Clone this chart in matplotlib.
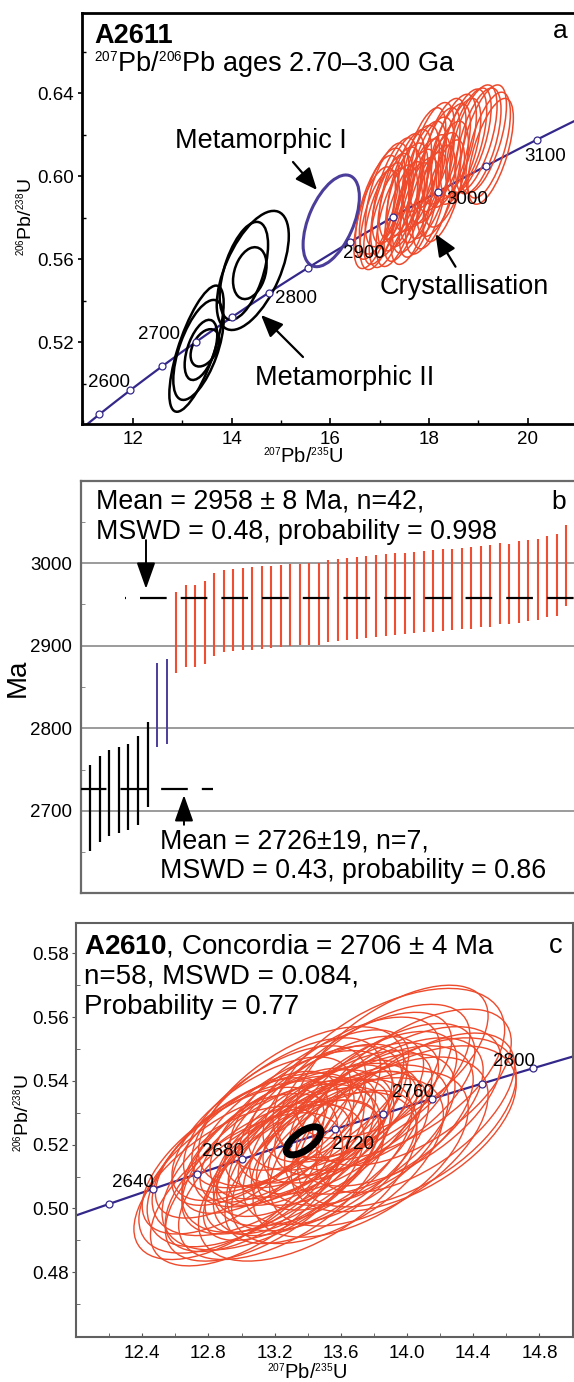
import numpy as np
import matplotlib
matplotlib.use('Agg')
import matplotlib.pyplot as plt
import matplotlib._mathtext as mtext
from matplotlib.patches import Circle, FancyArrowPatch
from matplotlib.transforms import Affine2D
from matplotlib.ticker import MultipleLocator, FixedLocator, FormatStrFormatter

# small isotope superscripts
mtext.SHRINK_FACTOR = 0.5

plt.rcParams['font.family'] = ['Liberation Sans', 'DejaVu Sans']
plt.rcParams['mathtext.fontset'] = 'custom'
plt.rcParams['mathtext.rm'] = 'Liberation Sans'
plt.rcParams['mathtext.it'] = 'Liberation Sans:italic'
plt.rcParams['mathtext.bf'] = 'Liberation Sans:bold'
plt.rcParams['lines.scale_dashes'] = False

# decay constants (1/yr)
L238 = 1.55125e-10
L235 = 9.8485e-10

# ---- panel a : A2611 concordia ----
ages_a = [2550, 2600, 2650, 2700, 2750, 2800, 2850, 2900, 2950, 3000, 3050, 3100]
labels_a = [2600, 2700, 2800, 2900, 3000, 3100]
lab_off_a = [(-15, 5.6), (-27, 5), (19, -4.2), (10.4, -7.8), (20.4, -6), (6.2, -12)]

blk_x = [13.29, 13.33, 13.38, 13.46, 14.43, 14.25, 14.37]
blk_y = [0.5169, 0.5163, 0.5163, 0.5173, 0.5546, 0.5544, 0.5533]
blk_sx = [0.55, 0.51, 0.33, 0.29, 0.73, 0.49, 0.34]
blk_sy = [0.0304, 0.0241, 0.0145, 0.0090, 0.0287, 0.0236, 0.0125]
blk_rho = [0.72, 0.60, 0.50, 0.40, 0.58, 0.53, 0.30]

pur_x = [16.02]
pur_y = [0.5785]
pur_sx = [0.57]
pur_sy = [0.0221]
pur_rho = [0.52]

ra_x = [16.90, 16.95, 17.00, 17.05, 17.10, 17.15, 17.20, 17.25, 17.30, 17.35,
        17.40, 17.45, 17.50, 17.55, 17.60, 17.65, 17.70, 17.75, 17.80, 17.85,
        17.90, 17.95, 18.00, 18.05, 18.10, 18.20, 18.30, 18.35, 17.90, 18.05,
        18.20, 18.30, 18.40, 18.50, 18.60, 18.70, 18.80, 18.90, 19.00, 19.10,
        19.20, 19.25]
ra_y = [0.5800, 0.5850, 0.5790, 0.5880, 0.5820, 0.5910, 0.5800, 0.5860, 0.5930, 0.5810,
        0.5890, 0.5950, 0.5830, 0.5910, 0.5970, 0.5820, 0.5880, 0.5990, 0.5850, 0.5930,
        0.6010, 0.5870, 0.5950, 0.6030, 0.5900, 0.5960, 0.5930, 0.6010, 0.6080, 0.6100,
        0.6080, 0.6120, 0.6100, 0.6140, 0.6120, 0.6160, 0.6170, 0.6180, 0.6170, 0.6180,
        0.6150, 0.6120]
ra_sx = [0.42, 0.44, 0.40, 0.46, 0.42, 0.44, 0.41, 0.43, 0.45, 0.42,
         0.44, 0.46, 0.41, 0.43, 0.45, 0.42, 0.44, 0.46, 0.40, 0.43,
         0.45, 0.42, 0.44, 0.46, 0.43, 0.44, 0.42, 0.45, 0.44, 0.46,
         0.43, 0.45, 0.44, 0.46, 0.45, 0.47, 0.46, 0.48, 0.46, 0.47,
         0.45, 0.46]
ra_sy = [0.0245, 0.0250, 0.0240, 0.0255, 0.0245, 0.0250, 0.0240, 0.0250, 0.0255, 0.0245,
         0.0250, 0.0255, 0.0240, 0.0250, 0.0255, 0.0245, 0.0250, 0.0255, 0.0240, 0.0250,
         0.0255, 0.0245, 0.0250, 0.0255, 0.0250, 0.0250, 0.0245, 0.0255, 0.0250, 0.0255,
         0.0250, 0.0255, 0.0250, 0.0255, 0.0255, 0.0260, 0.0255, 0.0260, 0.0255, 0.0260,
         0.0255, 0.0255]
ra_rho = [0.60, 0.63, 0.57, 0.61, 0.65, 0.59, 0.62, 0.58, 0.63, 0.60,
          0.57, 0.61, 0.64, 0.59, 0.62, 0.60, 0.65, 0.58, 0.61, 0.63,
          0.59, 0.62, 0.60, 0.57, 0.63, 0.61, 0.65, 0.59, 0.62, 0.60,
          0.63, 0.58, 0.61, 0.59, 0.62, 0.60, 0.63, 0.61, 0.59, 0.62,
          0.60, 0.63]

# ---- panel b : 207Pb/206Pb ages ----
blk_age = [2703.5, 2714.4, 2721.4, 2725.4, 2728.7, 2736.6, 2756.3]
blk_err = [51.8, 51.8, 52.0, 52.0, 52.0, 53.8, 51.4]
pur_age = [2828.2, 2832.7]
pur_err = [50.8, 51.2]
red_age = [2916.2, 2923.6, 2924.0, 2927.9, 2938.2, 2942.2, 2943.4, 2944.2, 2945.2, 2946.4,
           2947.3, 2948.5, 2949.2, 2950.0, 2950.4, 2951.0, 2953.9, 2955.7, 2956.9, 2957.9,
           2959.3, 2960.3, 2961.3, 2962.5, 2963.6, 2964.3, 2965.4, 2966.6, 2967.3, 2968.0,
           2969.4, 2970.4, 2971.4, 2972.4, 2975.4, 2975.0, 2977.0, 2979.1, 2980.3, 2984.1,
           2985.7, 2997.2]
red_err = [49.4, 49.8, 50.0, 50.2, 50.4, 50.0, 49.8, 49.8, 49.8, 49.8,
           49.6, 49.6, 49.6, 49.6, 49.4, 49.6, 49.4, 49.4, 49.6, 49.4,
           49.6, 49.4, 49.4, 49.4, 49.2, 49.2, 49.2, 49.4, 49.4, 49.4,
           49.4, 49.6, 49.2, 49.4, 49.2, 48.8, 49.6, 49.6, 49.4, 49.4,
           49.6, 49.6]
mean_hi, mean_lo = 2958, 2726

# ---- panel c : A2610 concordia ----
ages_c = [2620, 2640, 2660, 2680, 2700, 2720, 2740, 2760, 2780, 2800]
labels_c = [2640, 2680, 2720, 2760, 2800]
lab_off_c = [(-14.3, 4.4), (-14, 5.3), (12.5, -11), (-14.2, 4.8), (-14, 4.6)]

rc_x = [12.92, 12.95, 12.98, 13.00, 13.03, 13.05, 13.08, 13.10, 13.10, 13.12,
        13.14, 13.16, 13.18, 13.20, 13.22, 13.24, 13.25, 13.27, 13.28, 13.30,
        13.31, 13.33, 13.34, 13.36, 13.37, 13.39, 13.40, 13.42, 13.43, 13.45,
        13.46, 13.47, 13.48, 13.50, 13.52, 13.54, 13.56, 13.58, 13.60, 13.62,
        13.63, 13.66, 13.69, 13.70, 13.72, 13.75, 13.78, 13.80, 13.83, 13.85,
        13.86, 13.89, 13.91, 13.95, 13.98, 14.00, 14.03, 14.05]
rc_y = [0.5080, 0.5150, 0.5110, 0.5190, 0.5060, 0.5140, 0.5220, 0.5100, 0.5170, 0.5250,
        0.5080, 0.5200, 0.5130, 0.5280, 0.5160, 0.5090, 0.5230, 0.5300, 0.5180, 0.5120,
        0.5250, 0.5210, 0.5150, 0.5320, 0.5190, 0.5270, 0.5100, 0.5230, 0.5160, 0.5290,
        0.5200, 0.5340, 0.5130, 0.5250, 0.5180, 0.5310, 0.5220, 0.5150, 0.5270, 0.5360,
        0.5200, 0.5300, 0.5240, 0.5380, 0.5170, 0.5330, 0.5260, 0.5400, 0.5210, 0.5350,
        0.5290, 0.5420, 0.5460, 0.5320, 0.5250, 0.5270, 0.5380, 0.5300]
rc_sx = [0.57, 0.55, 0.60, 0.52, 0.58, 0.62, 0.50, 0.56, 0.64, 0.54,
         0.60, 0.52, 0.66, 0.55, 0.58, 0.62, 0.50, 0.57, 0.64, 0.53,
         0.60, 0.48, 0.56, 0.62, 0.52, 0.58, 0.66, 0.50, 0.60, 0.55,
         0.63, 0.54, 0.58, 0.52, 0.61, 0.56, 0.50, 0.64, 0.55, 0.58,
         0.62, 0.53, 0.60, 0.57, 0.65, 0.55, 0.62, 0.58, 0.66, 0.56,
         0.60, 0.70, 0.58, 0.62, 0.68, 0.66, 0.60, 0.60]
rc_sy = [0.0240, 0.0230, 0.0250, 0.0220, 0.0240, 0.0260, 0.0210, 0.0235, 0.0255, 0.0225,
         0.0245, 0.0215, 0.0260, 0.0230, 0.0240, 0.0250, 0.0210, 0.0235, 0.0255, 0.0220,
         0.0245, 0.0200, 0.0230, 0.0250, 0.0215, 0.0240, 0.0265, 0.0220, 0.0245, 0.0225,
         0.0255, 0.0220, 0.0240, 0.0215, 0.0250, 0.0230, 0.0210, 0.0260, 0.0225, 0.0240,
         0.0250, 0.0220, 0.0245, 0.0235, 0.0260, 0.0225, 0.0250, 0.0240, 0.0265, 0.0230,
         0.0245, 0.0270, 0.0240, 0.0250, 0.0260, 0.0265, 0.0245, 0.0250]
rc_rho = [0.60, 0.62, 0.58, 0.65, 0.60, 0.55, 0.66, 0.62, 0.57, 0.64,
          0.60, 0.66, 0.55, 0.62, 0.60, 0.57, 0.66, 0.62, 0.56, 0.64,
          0.60, 0.68, 0.62, 0.57, 0.65, 0.60, 0.55, 0.66, 0.59, 0.63,
          0.57, 0.64, 0.60, 0.66, 0.58, 0.62, 0.67, 0.56, 0.63, 0.60,
          0.57, 0.65, 0.59, 0.62, 0.55, 0.63, 0.58, 0.60, 0.55, 0.62,
          0.59, 0.52, 0.60, 0.57, 0.54, 0.55, 0.58, 0.60]
conc_x, conc_y, conc_sx, conc_sy, conc_rho = 13.375, 0.5212, 0.105, 0.0044, 0.65

RED = '#ee4a2c'
PUR = '#4b3d9a'
CONC = '#33288a'

W, H = 574, 1382


def fpx(x, y):
    return (x / W, 1 - y / H)


def box(l, t, r, b):
    return [l / W, 1 - b / H, (r - l) / W, (b - t) / H]


def concordia(ages):
    t = np.asarray(ages, dtype=float) * 1e6
    return np.expm1(L235 * t), np.expm1(L238 * t)


def ellipse(ax, x, y, sx, sy, rho, **kw):
    m = np.array([[sx, 0, x], [rho * sy, sy * np.sqrt(1 - rho ** 2), y], [0, 0, 1]])
    ax.add_patch(Circle((0, 0), 1, transform=Affine2D(m) + ax.transData,
                        fill=False, **kw))


def arrow(head, tail):
    fig.add_artist(FancyArrowPatch(
        fpx(*tail), fpx(*head), transform=fig.transFigure,
        arrowstyle='-|>,head_length=0.75,head_width=0.32', mutation_scale=18,
        color='k', lw=1.6, shrinkA=0, shrinkB=0))


fig = plt.figure(figsize=(W / 100, H / 100), dpi=100)

# ================= a =================
ax = fig.add_axes(box(82, 12.7, 578, 424))
ax.set_xlim(10.97, 21.02)
ax.set_ylim(0.4806, 0.6788)
xl, yl = concordia(np.arange(2500, 3210, 10))
ax.plot(xl, yl, color=CONC, lw=1.6, zorder=1)
for x, y, sx, sy, r in zip(ra_x, ra_y, ra_sx, ra_sy, ra_rho):
    ellipse(ax, x, y, sx, sy, r, ec=RED, lw=1.1, zorder=2)
for x, y, sx, sy, r in zip(blk_x, blk_y, blk_sx, blk_sy, blk_rho):
    ellipse(ax, x, y, sx, sy, r, ec='k', lw=1.8, zorder=2)
for x, y, sx, sy, r in zip(pur_x, pur_y, pur_sx, pur_sy, pur_rho):
    ellipse(ax, x, y, sx, sy, r, ec=PUR, lw=2.2, zorder=2)
xm, ym = concordia(ages_a)
ax.plot(xm, ym, 'o', ms=5, mfc='white', mec=CONC, mew=0.9, zorder=3)
for age, off in zip(labels_a, lab_off_a):
    px_, py_ = concordia([age])
    ax.annotate(str(age), (px_[0], py_[0]), xytext=off, textcoords='offset points',
                ha='center', va='center', fontsize=13.5, zorder=4)
ax.xaxis.set_major_locator(MultipleLocator(2))
ax.xaxis.set_minor_locator(MultipleLocator(1))
ax.yaxis.set_major_locator(FixedLocator([0.52, 0.56, 0.60, 0.64]))
ax.yaxis.set_minor_locator(FixedLocator([0.50, 0.54, 0.58, 0.62, 0.66]))
ax.yaxis.set_major_formatter(FormatStrFormatter('%.2f'))
ax.tick_params(axis='x', which='both', direction='in', labelsize=13.5, pad=5)
ax.tick_params(axis='x', which='major', length=4, width=1.2)
ax.tick_params(axis='x', which='minor', length=3, width=1)
ax.tick_params(axis='y', which='major', direction='out', length=3, width=1.2,
               labelsize=13.5, pad=3)
ax.tick_params(axis='y', which='minor', direction='in', length=3, width=1)
for s in ax.spines.values():
    s.set_linewidth(2)

fig.text(*fpx(94.4, 43.3), 'A2611', fontsize=19.5, fontweight='bold', va='baseline')
fig.text(*fpx(94.4, 71.7), r'$^{207}$Pb/$^{206}$Pb ages 2.70–3.00 Ga',
         fontsize=19.5, va='baseline')
fig.text(*fpx(560, 38.3), 'a', fontsize=19, ha='center', va='baseline')
fig.text(*fpx(260.5, 140.8), 'Metamorphic I', fontsize=19.5, ha='center', va='center')
fig.text(*fpx(345, 377.5), 'Metamorphic II', fontsize=19.5, ha='center', va='center')
fig.text(*fpx(464, 286.7), 'Crystallisation', fontsize=19.5, ha='center', va='center')
arrow((317, 190), (293, 162))
arrow((261, 315), (303, 357))
arrow((435.5, 234), (455.5, 266.7))
fig.text(*fpx(302.8, 463.5), r'$^{207}$Pb/$^{235}$U', fontsize=14.5,
         ha='center', va='baseline')
fig.text(*fpx(25.7, 217.5), r'$^{206}$Pb/$^{238}$U', fontsize=14, rotation=90,
         ha='center', va='center')

# ================= b =================
bx = fig.add_axes(box(80.5, 480.7, 578, 893.3))
bx.set_xlim(-0.04, 52.22)
bx.set_ylim(2600, 3100)
nb, npu = len(blk_age), len(pur_age)
ib = np.arange(1, nb + 1)
ip = np.arange(nb + 1, nb + npu + 1)
ir = np.arange(nb + npu + 1, nb + npu + len(red_age) + 1)
bx.vlines(ib, np.subtract(blk_age, blk_err), np.add(blk_age, blk_err),
          color='k', lw=1.6, zorder=2)
bx.vlines(ip, np.subtract(pur_age, pur_err), np.add(pur_age, pur_err),
          color=PUR, lw=1.4, zorder=2)
bx.vlines(ir, np.subtract(red_age, red_err), np.add(red_age, red_err),
          color='#f04e32', lw=1.5, zorder=2)
bx.plot([4.63, 52.22], [mean_hi, mean_hi], color='k', lw=1.6,
        linestyle=(18.5, (19.2, 10.1)), zorder=3)
bx.plot([-0.04, 13.85], [mean_lo, mean_lo], color='k', lw=1.6,
        linestyle=(0.9, (19.2, 10.1)), zorder=3)
bx.annotate('', xy=(6.84, 2969), xytext=(6.84, 3028),
            arrowprops=dict(arrowstyle='-|>,head_length=0.9,head_width=0.32',
                            mutation_scale=18, color='k', lw=1.4,
                            shrinkA=0, shrinkB=0))
bx.annotate('', xy=(10.83, 2719), xytext=(10.83, 2683),
            arrowprops=dict(arrowstyle='-|>,head_length=0.9,head_width=0.32',
                            mutation_scale=18, color='k', lw=1.4,
                            shrinkA=0, shrinkB=0))
bx.yaxis.set_major_locator(FixedLocator([2700, 2800, 2900, 3000]))
bx.yaxis.set_minor_locator(FixedLocator([2650, 2750, 2850, 2950, 3050]))
bx.yaxis.grid(True, color='#8a8a8a', lw=1.2)
bx.set_axisbelow(True)
bx.tick_params(axis='y', which='major', length=0, labelsize=13.5, pad=6)
bx.tick_params(axis='y', which='minor', direction='in', length=3, color='#777777')
bx.tick_params(axis='x', which='both', bottom=False, labelbottom=False)
for s in bx.spines.values():
    s.set_color('#6a6a6a')
    s.set_linewidth(1.6)
fig.text(*fpx(96.3, 509), 'Mean = 2958 ± 8 Ma, n=42,', fontsize=19.3, va='baseline')
fig.text(*fpx(96.3, 539.3), 'MSWD = 0.48, probability = 0.998', fontsize=19.3,
         va='baseline')
fig.text(*fpx(559, 509), 'b', fontsize=19, ha='center', va='baseline')
fig.text(*fpx(160, 848.3), 'Mean = 2726±19, n=7,', fontsize=19.3, va='baseline')
fig.text(*fpx(160, 878.3), 'MSWD = 0.43, probability = 0.86', fontsize=19.3,
         va='baseline')
fig.text(*fpx(17.4, 678), 'Ma', fontsize=20, rotation=90, ha='center', va='center')

# ================= c =================
cx = fig.add_axes(box(76, 922.7, 572.5, 1336.7))
cx.set_xlim(12.0, 15.0)
cx.set_ylim(0.4598, 0.5896)
xl, yl = concordia(np.arange(2580, 2850, 10))
cx.plot(xl, yl, color=CONC, lw=1.6, zorder=1)
for x, y, sx, sy, r in zip(rc_x, rc_y, rc_sx, rc_sy, rc_rho):
    ellipse(cx, x, y, sx, sy, r, ec=RED, lw=1.0, zorder=2)
xm, ym = concordia(ages_c)
cx.plot(xm, ym, 'o', ms=5, mfc='white', mec=CONC, mew=0.9, zorder=3)
ellipse(cx, conc_x, conc_y, conc_sx, conc_sy, conc_rho, ec='k', lw=5, zorder=4)
for age, off in zip(labels_c, lab_off_c):
    px_, py_ = concordia([age])
    cx.annotate(str(age), (px_[0], py_[0]), xytext=off, textcoords='offset points',
                ha='center', va='center', fontsize=13.5, zorder=5)
cx.xaxis.set_major_locator(FixedLocator([12.4, 12.8, 13.2, 13.6, 14.0, 14.4, 14.8]))
cx.xaxis.set_minor_locator(FixedLocator([12.2, 12.6, 13.0, 13.4, 13.8, 14.2, 14.6]))
cx.xaxis.set_major_formatter(FormatStrFormatter('%.1f'))
cx.yaxis.set_major_locator(FixedLocator([0.48, 0.50, 0.52, 0.54, 0.56, 0.58]))
cx.yaxis.set_minor_locator(FixedLocator([0.47, 0.49, 0.51, 0.53, 0.55, 0.57]))
cx.yaxis.set_major_formatter(FormatStrFormatter('%.2f'))
cx.tick_params(axis='x', which='both', direction='in', length=3, labelsize=13.5,
               pad=6, color='#555555')
cx.tick_params(axis='y', which='major', direction='out', length=3, labelsize=13.5,
               pad=2, color='#555555')
cx.tick_params(axis='y', which='minor', direction='in', length=3, color='#555555')
for s in cx.spines.values():
    s.set_color('#606060')
    s.set_linewidth(1.5)
fig.text(*fpx(84, 953.3), r'$\mathbf{A2610}$, Concordia = 2706 ± 4 Ma', fontsize=20,
         va='baseline')
fig.text(*fpx(84, 983.3), 'n=58, MSWD = 0.084,', fontsize=20, va='baseline')
fig.text(*fpx(84, 1013.5), 'Probability = 0.77', fontsize=20, va='baseline')
fig.text(*fpx(555.6, 953.3), 'c', fontsize=19.5, ha='center', va='baseline')
fig.text(*fpx(306.7, 1379), r'$^{207}$Pb/$^{235}$U', fontsize=14.5,
         ha='center', va='baseline')
fig.text(*fpx(22, 1113), r'$^{206}$Pb/$^{238}$U', fontsize=14, rotation=90,
         ha='center', va='center')

fig.savefig('out.png', dpi=100)
